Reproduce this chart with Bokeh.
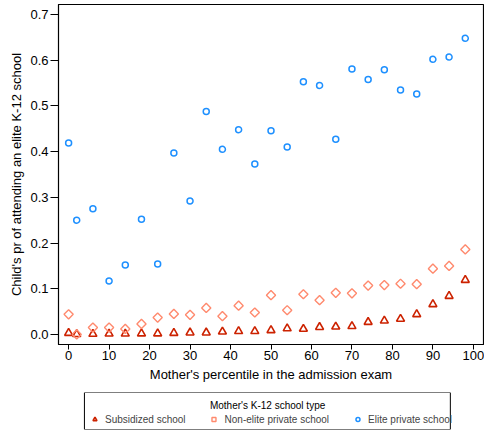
import math
from bokeh.plotting import figure
from bokeh.layouts import column
from bokeh.models import (Range1d, FixedTicker, NumeralTickFormatter, Legend, LegendItem, Label,
                          BoxAnnotation)
from bokeh.embed import file_html
from bokeh.resources import INLINE

percentile = [0, 2, 6, 10, 14, 18, 22, 26, 30, 34, 38, 42, 46, 50, 54, 58, 62, 66, 70, 74, 78, 82, 86, 90, 94, 98]
subsidized = [0.003, 0.0005, 0.001, 0.0015, 0.0015, 0.002, 0.002, 0.003, 0.004, 0.004, 0.006, 0.007, 0.007,
              0.009, 0.013, 0.012, 0.016, 0.017, 0.018, 0.027, 0.030, 0.034, 0.044, 0.066, 0.084, 0.119]
nonelite = [0.044, 0.0, 0.015, 0.015, 0.012, 0.023, 0.037, 0.045, 0.043, 0.058, 0.040, 0.063, 0.048,
            0.086, 0.053, 0.088, 0.075, 0.091, 0.090, 0.107, 0.108, 0.111, 0.110, 0.144, 0.150, 0.186]
elite = [0.419, 0.250, 0.275, 0.117, 0.152, 0.252, 0.154, 0.397, 0.292, 0.488, 0.405, 0.448, 0.373,
         0.446, 0.410, 0.553, 0.545, 0.427, 0.581, 0.558, 0.579, 0.535, 0.526, 0.602, 0.607, 0.648]
x_ticks = [0, 10, 20, 30, 40, 50, 60, 70, 80, 90, 100]
y_ticks = [0.0, 0.1, 0.2, 0.3, 0.4, 0.5, 0.6, 0.7]
series_labels = ["Subsidized school", "Non-elite private school", "Elite private school"]
legend_title = "Mother's K-12 school type"

FONT = "Liberation Sans"
C_SUB = "#CC2200"
C_NON = "#FF8A6E"
C_ELI = "#1E90FF"

p = figure(frame_width=425, frame_height=340, output_backend="svg", toolbar_location=None,
           x_range=Range1d(-2.5, 102.5), y_range=Range1d(-0.022, 0.722),
           min_border_left=58, min_border_right=1, min_border_top=4, min_border_bottom=44)
p.grid.visible = False
p.outline_line_color = "black"
p.outline_line_width = 1.2
p.background_fill_color = "white"

for ax in (p.xaxis, p.yaxis):
    ax.axis_line_color = "black"
    ax.major_tick_line_color = "black"
    ax.minor_tick_line_color = None
    ax.major_tick_in = 0
    ax.major_label_text_font = FONT
    ax.major_label_text_font_size = "13px"
    ax.major_label_text_color = "black"
    ax.axis_label_text_font = FONT
    ax.axis_label_text_font_size = "13px"
    ax.axis_label_text_font_style = "normal"
    ax.axis_label_text_color = "black"

p.xaxis.ticker = FixedTicker(ticks=x_ticks)
p.yaxis.ticker = FixedTicker(ticks=y_ticks)
p.yaxis.formatter = NumeralTickFormatter(format="0.0")
p.xaxis.major_tick_out = 5
p.yaxis.major_tick_out = 8
p.xaxis.major_label_standoff = 1
p.yaxis.major_label_standoff = 2
p.xaxis.axis_label = "Mother's percentile in the admission exam"
p.yaxis.axis_label = "Child's pr of attending an elite K-12 school"
p.xaxis.axis_label_standoff = 4
p.yaxis.axis_label_standoff = 3

p.scatter(percentile, subsidized, marker="triangle", size=8, line_color=C_SUB,
          fill_color=None, line_width=1.6)
p.scatter(percentile, nonelite, marker="square", angle=math.pi / 4, size=6.5, line_color=C_NON,
          fill_color=None, line_width=1.4)
p.scatter(percentile, elite, marker="circle", size=6, line_color=C_ELI,
          fill_color=None, line_width=1.5)

# legend panel below the chart (frame aligned with the chart's frame)
lg = figure(width=484, height=44, output_backend="svg", toolbar_location=None,
            x_range=Range1d(0, 1), y_range=Range1d(0, 1),
            x_axis_location=None, y_axis_location=None,
            min_border_left=58, min_border_right=1, min_border_top=4, min_border_bottom=3)
lg.grid.visible = False
lg.outline_line_color = None
lg.add_layout(BoxAnnotation(left=0.061, right=0.922, fill_alpha=0, line_color="black",
                            line_width=1, line_alpha=1))
g1 = lg.scatter([-10], [-10], marker="triangle", size=8, line_color=C_SUB, fill_color=None, line_width=1.6)
g2 = lg.scatter([-10], [-10], marker="square", angle=math.pi / 4, size=6.5, line_color=C_NON,
                fill_color=None, line_width=1.4)
g3 = lg.scatter([-10], [-10], marker="circle", size=6, line_color=C_ELI, fill_color=None, line_width=1.5)

legend = Legend(items=[LegendItem(label=series_labels[0], renderers=[g1]),
                       LegendItem(label=series_labels[1], renderers=[g2]),
                       LegendItem(label=series_labels[2], renderers=[g3])],
                orientation="horizontal", location="bottom_center")
legend.label_text_font = FONT
legend.label_text_font_size = "10px"
legend.border_line_color = None
legend.background_fill_alpha = 0
legend.spacing = 23
legend.glyph_width = 10
legend.glyph_height = 10
legend.label_standoff = 6
legend.label_height = 12
legend.padding = 2
legend.margin = 4
lg.add_layout(legend, "center")

lg.add_layout(Label(x=0.492, y=0.81, text=legend_title, text_align="center", text_baseline="top",
                    text_font=FONT, text_font_size="10px", text_color="black"))

layout = column(p, lg, spacing=0)
open("out.html", "w").write(file_html(layout, INLINE))
